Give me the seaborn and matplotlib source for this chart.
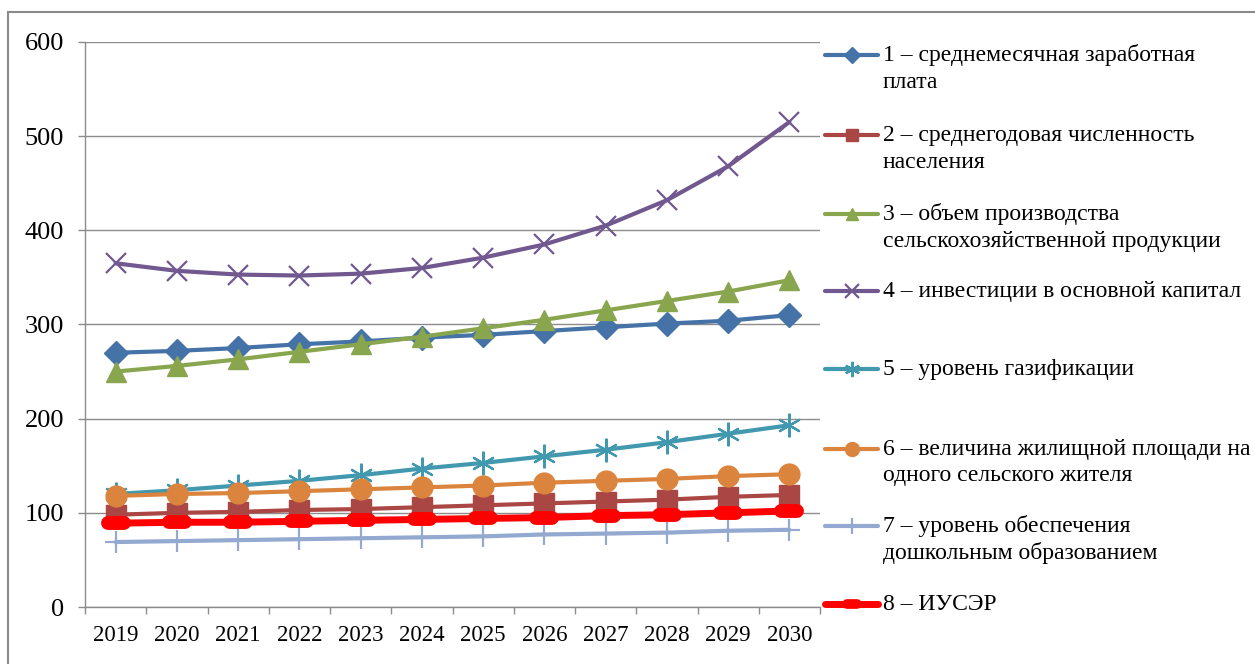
import matplotlib
matplotlib.use("Agg")
import matplotlib.pyplot as plt
from matplotlib.markers import MarkerStyle
from matplotlib.lines import Line2D
from matplotlib.patches import Rectangle
import seaborn as sns
import pandas as pd

years = ["2019", "2020", "2021", "2022", "2023", "2024", "2025", "2026", "2027", "2028", "2029", "2030"]

s1_wage = [270, 272, 275, 279, 282, 286, 289, 293, 297, 301, 304, 310]
s2_population = [98, 100, 101, 103, 104, 106, 108, 110, 112, 114, 117, 119]
s3_agri = [250, 256, 263, 271, 279, 287, 296, 305, 315, 325, 335, 347]
s4_invest = [365, 357, 353, 352, 354, 360, 371, 385, 405, 432, 468, 515]
s5_gas = [120, 124, 129, 134, 140, 147, 153, 160, 167, 175, 184, 193]
s6_housing = [118, 120, 121, 123, 125, 127, 129, 132, 134, 136, 139, 141]
s7_preschool = [69, 70, 71, 72, 73, 74, 75, 77, 78, 79, 81, 82]
s8_iuser = [89, 90, 90, 91, 92, 93, 94, 95, 97, 98, 100, 102]

labels = [
    ["1 – среднемесячная заработная", "плата"],
    ["2 – среднегодовая численность", "населения"],
    ["3 – объем производства", "сельскохозяйственной продукции"],
    ["4 – инвестиции в основной капитал"],
    ["5 – уровень газификации"],
    ["6 – величина жилищной площади на", "одного сельского жителя"],
    ["7 – уровень обеспечения", "дошкольным образованием"],
    ["8 – ИУСЭР"],
]

series = [s1_wage, s2_population, s3_agri, s4_invest, s5_gas, s6_housing, s7_preschool, s8_iuser]
colors = ["#4572A7", "#AA4643", "#89A54E", "#71588F", "#4198AF", "#DB843D", "#93A9CF", "#FF0000"]

sns.set_style("white")
plt.rcParams["font.family"] = ["Liberation Serif", "DejaVu Serif"]

W, H = 1255, 664
fig = plt.figure(figsize=(W / 100, H / 100), dpi=100)
ax = fig.add_axes([85 / W, 1 - 607 / H, (820 - 85) / W, (607 - 42) / H])

red_marker = MarkerStyle("_", capstyle="round")
styles = [
    dict(marker="D", ms=12, mew=1, lw=3.0),
    dict(marker="s", ms=14, mew=1, lw=3.0),
    dict(marker="^", ms=15, mew=1, lw=3.0),
    dict(marker="x", ms=15, mew=1.6, lw=3.0),
    dict(marker=(6, 2, 0), ms=17, mew=1.6, lw=3.0),
    dict(marker="o", ms=15, mew=1, lw=3.0),
    dict(marker="+", ms=16, mew=1.6, lw=3.0),
    dict(marker=red_marker, ms=12, mew=10, lw=5.0),
]

x = list(range(len(years)))
for vals, col, st in zip(series, colors, styles):
    df = pd.DataFrame({"x": x, "y": vals})
    sns.lineplot(data=df, x="x", y="y", ax=ax, color=col, linewidth=st["lw"],
                 marker=st["marker"], markersize=st["ms"], markeredgewidth=st["mew"],
                 markeredgecolor=col, markerfacecolor=col, zorder=3)

ax.set_xlim(-0.5, len(years) - 0.5)
ax.set_ylim(0, 600)
ax.set_yticks(range(0, 601, 100))
ax.set_xticks(x)
ax.set_xticklabels(years)
ax.set_xticks([i - 0.5 for i in range(len(years) + 1)], minor=True)
ax.set_xlabel("")
ax.set_ylabel("")

grid_c = "#8C8C8C"
ax.grid(axis="y", color=grid_c, lw=1.0)
ax.grid(axis="x", visible=False)
for side in ["top", "right"]:
    ax.spines[side].set_visible(False)
for side in ["left", "bottom"]:
    ax.spines[side].set_color(grid_c)
    ax.spines[side].set_linewidth(1.0)
ax.tick_params(axis="y", which="major", left=True, length=5, width=1, color=grid_c,
               labelsize=19, pad=10, labelcolor="black")
ax.tick_params(axis="x", which="major", bottom=False, length=0, labelsize=16.5, pad=13,
               labelcolor="black")
ax.tick_params(axis="x", which="minor", bottom=True, length=5, width=1, color=grid_c)

def fx(px):
    return px / W

def fy(py):
    return 1 - py / H

legend_y = [55, 135, 214, 291, 369, 449, 526, 604]
leg_ms = [8, 8, 9, 10, 11, 10, 11, 7]
for (col, st, lab, yc, lms) in zip(colors, styles, labels, legend_y, leg_ms):
    fig.add_artist(Line2D([fx(825), fx(878)], [fy(yc), fy(yc)], color=col,
                          lw=st["lw"], transform=fig.transFigure))
    mew = st["mew"] if st["mew"] < 5 else 7
    fig.add_artist(Line2D([fx(851.5)], [fy(yc)], color=col, marker=st["marker"],
                          ms=lms, mew=mew, mec=col, mfc=col, lw=0,
                          transform=fig.transFigure))
    for k, line in enumerate(lab):
        fig.text(fx(883), fy(yc + 27 * k), line, fontsize=17, va="center",
                 ha="left", color="black")

fig.add_artist(Rectangle((fx(8), -0.05), 1.2, fy(12) + 0.05, fill=False,
                         edgecolor="#8A8A8A", lw=1.5, transform=fig.transFigure))

fig.savefig("out.png", dpi=100)
